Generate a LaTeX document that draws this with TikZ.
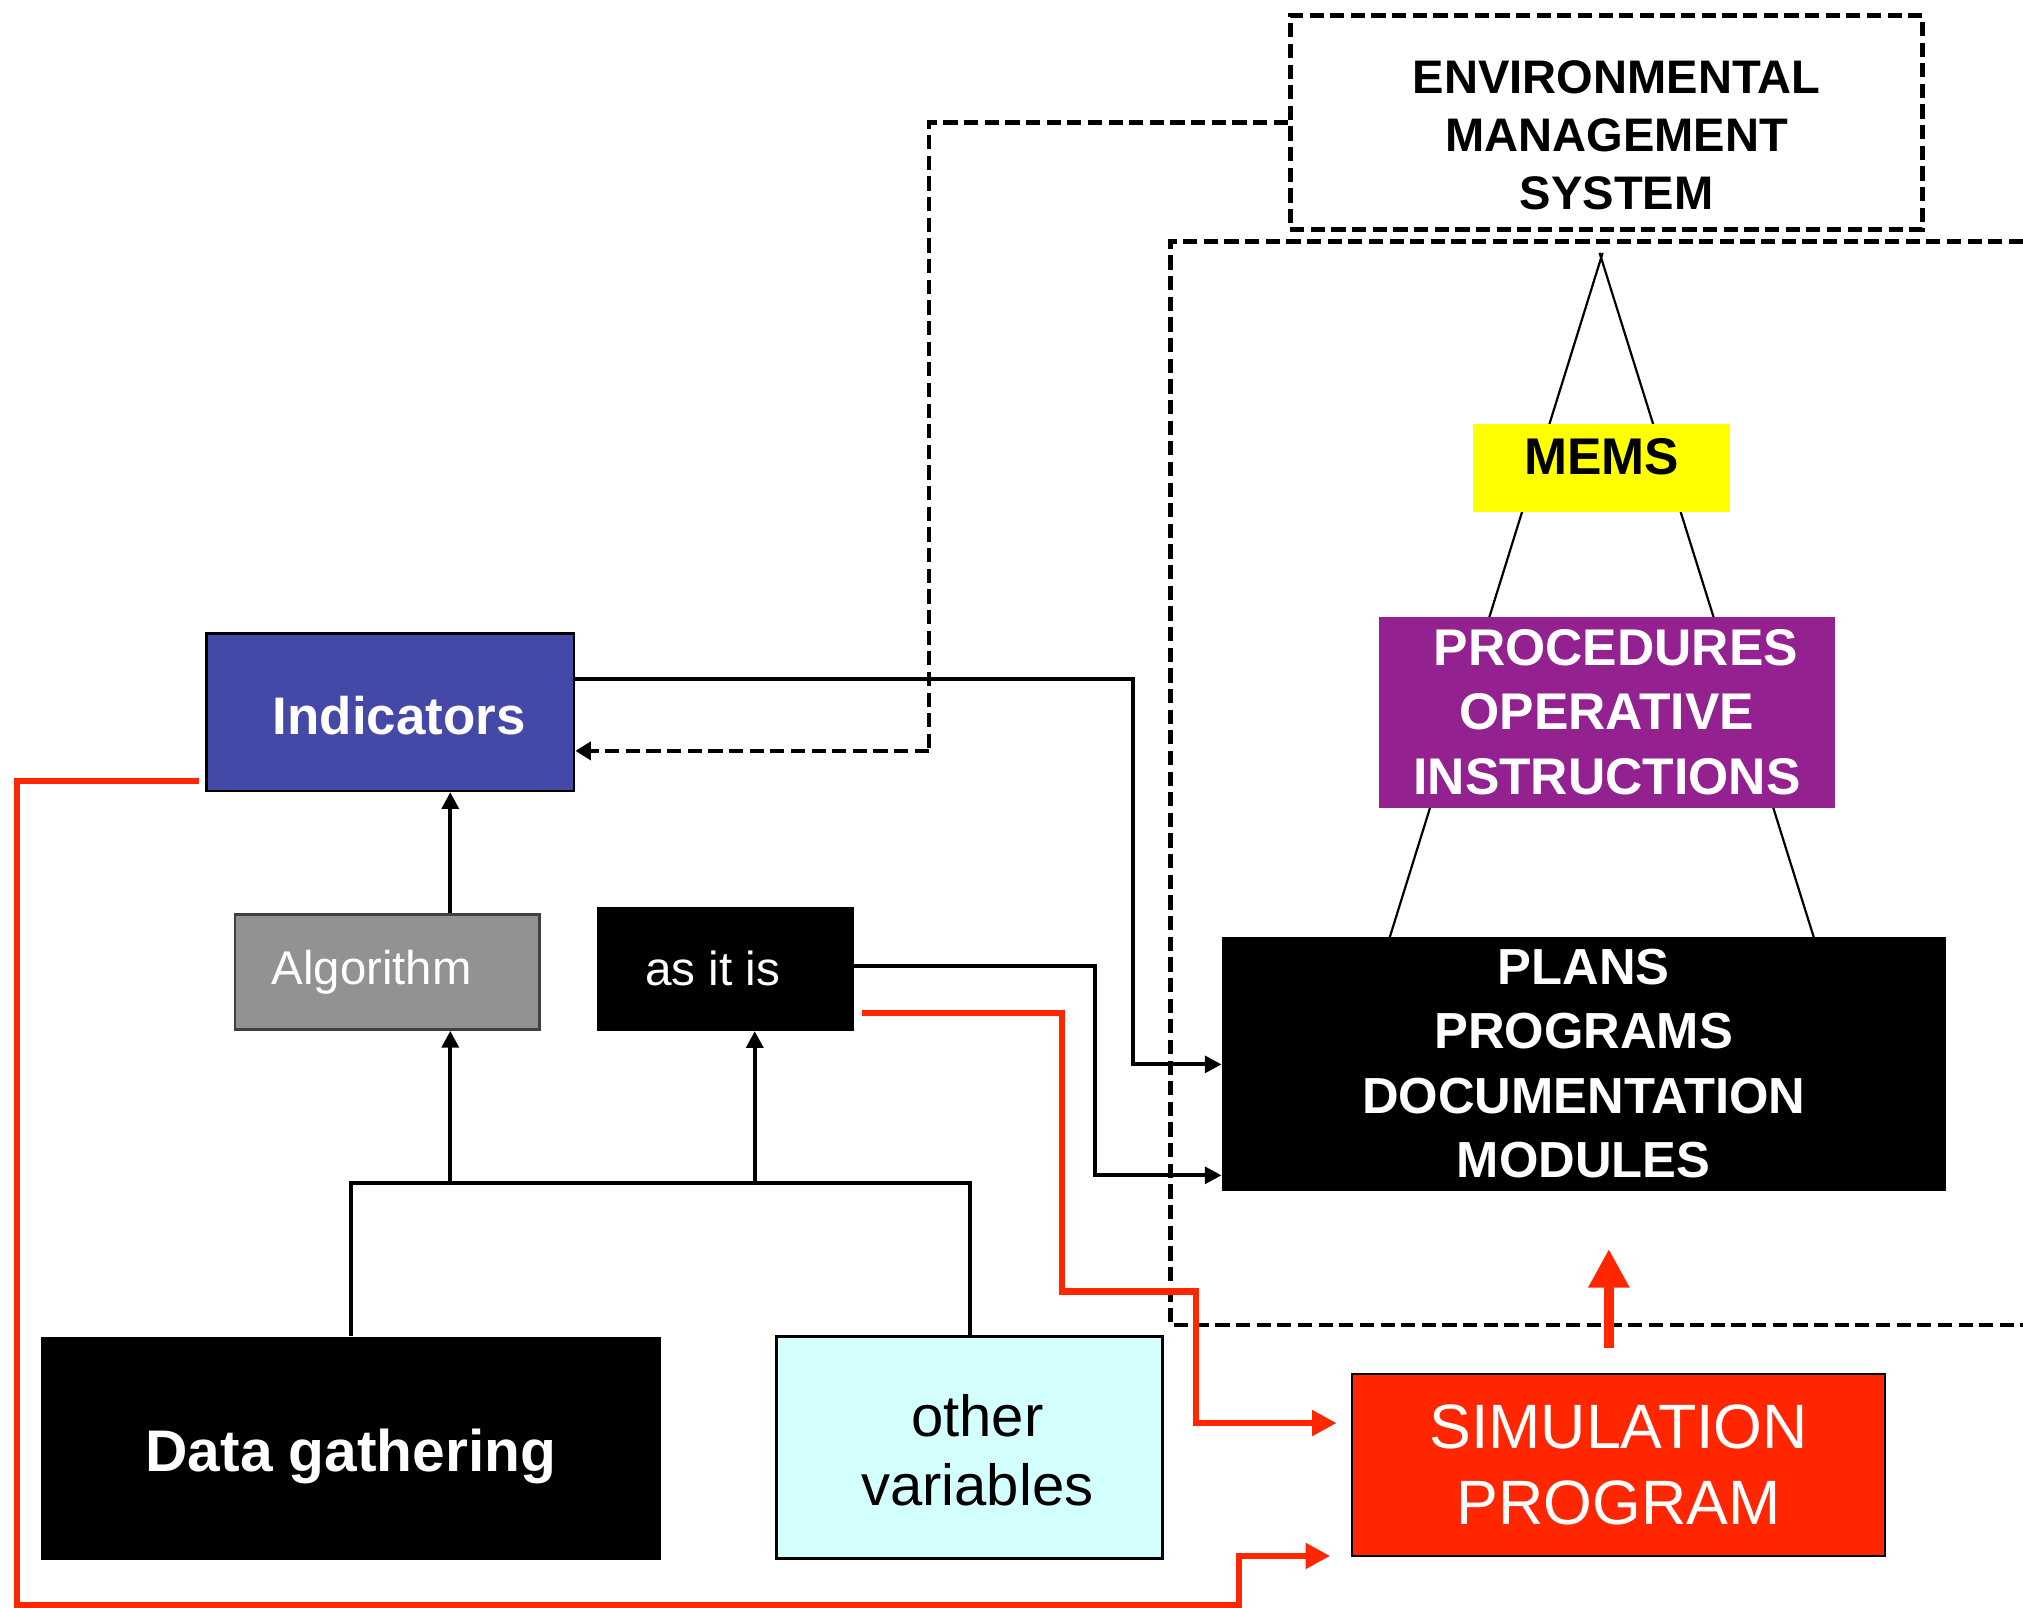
\documentclass[tikz,border=0pt]{standalone}
\usepackage{fontspec}
\setmainfont{Liberation Sans}
\usetikzlibrary{arrows.meta}

\definecolor{indblue}{RGB}{68,73,168}
\definecolor{procpurple}{RGB}{147,33,143}
\definecolor{memsyellow}{RGB}{255,255,0}
\definecolor{simred}{RGB}{255,38,0}
\definecolor{varcyan}{RGB}{212,255,255}
\definecolor{alggrey}{RGB}{146,146,146}

\begin{document}
\begin{tikzpicture}[x=1pt,y=-1pt,
  box/.style={rectangle, inner sep=0pt, align=center},
  plain/.style={line width=3.1pt},
  conn/.style={line width=3.1pt, -{Triangle[length=13pt,width=13pt]}},
  redconn/.style={draw=simred, line width=4.7pt, -{Triangle[length=19pt,width=19pt]}},
  dsh/.style={dash pattern=on 11pt off 5pt, line width=3.6pt},
  pyramid/.style={line width=1.7pt},
]
\useasboundingbox (0,0) rectangle (1568,1246);

% pyramid sides behind the stacked boxes, crossing just above the apex
\coordinate (apexL) at (1242.2,196);
\coordinate (apexR) at (1239.8,196);
\coordinate (baseL) at (1077,727);
\coordinate (baseR) at (1406,727);
\draw[pyramid] (baseL) -- (apexL);
\draw[pyramid] (baseR) -- (apexR);

% dashed frame of the management system
\draw[dsh] (1568,187) -- (907,187) -- (907,1027) -- (1568,1027);

% boxes
\node[box, draw=black, dsh, minimum width=490pt, minimum height=166pt,
  label={[xshift=8pt, yshift=-10pt, align=center, font=\bfseries\fontsize{36.5}{45}\selectfont]center:ENVIRONMENTAL\\MANAGEMENT\\SYSTEM}]
  (env) at (1245,95) {};

\node[box, fill=memsyellow, minimum width=199pt, minimum height=68pt,
  label={[yshift=9pt, font=\bfseries\fontsize{40}{48}\selectfont]center:MEMS}]
  (mems) at (1241.5,363) {};

\node[box, fill=procpurple, text=white, minimum width=353pt, minimum height=148pt,
  font=\bfseries\fontsize{40}{50}\selectfont]
  (proc) at (1245.5,552) {\hspace*{14pt}PROCEDURES\\OPERATIVE\\INSTRUCTIONS};

\node[box, fill=black, text=white, minimum width=561pt, minimum height=197pt,
  font=\bfseries\fontsize{39.3}{50}\selectfont]
  (plans) at (1227.5,824.5) {PLANS\\PROGRAMS\\DOCUMENTATION\\MODULES};

\node[box, fill=indblue, draw=black, line width=2pt, minimum width=285pt, minimum height=122pt,
  label={[xshift=7pt, yshift=-3pt, text=white, font=\bfseries\fontsize{41}{49}\selectfont]center:Indicators}]
  (ind) at (302.5,552) {};

\node[box, fill=alggrey, draw=black!75, line width=2pt, minimum width=236pt, minimum height=89pt,
  label={[xshift=-12pt, text=white, font=\fontsize{36.7}{44}\selectfont]center:Algorithm}]
  (alg) at (300,753.5) {};

\node[box, fill=black, minimum width=199pt, minimum height=96pt,
  label={[xshift=-10pt, text=white, font=\fontsize{37}{44}\selectfont]center:as it is}]
  (asis) at (562.5,751) {};

\node[box, fill=black, minimum width=480pt, minimum height=173pt,
  label={[yshift=-6pt, text=white, font=\bfseries\fontsize{45.5}{54}\selectfont]center:Data gathering}]
  (dg) at (272,1122.5) {};

\node[box, fill=varcyan, draw=black, line width=2pt, minimum width=299pt, minimum height=172pt,
  label={[xshift=6pt, yshift=-2pt, align=center, font=\fontsize{45}{54}\selectfont]center:other\\variables}]
  (ov) at (751.5,1122) {};

\node[box, fill=simred, draw=black, line width=2pt, text=white, minimum width=413pt, minimum height=141pt,
  font=\fontsize{48.6}{59}\selectfont]
  (sim) at (1254.5,1135.5) {SIMULATION\\PROGRAM};

% feedback from the management system to the indicators
\coordinate (fbk) at (720,582);
\draw[dsh] (env.west) -| (fbk);
\draw[dsh, -{Triangle[length=12pt,width=14pt]}] (fbk) -- (ind.east |- fbk);

% data sources feeding algorithm and raw values
\coordinate (bus) at (0,917);
\coordinate (ax) at (349,917);
\coordinate (bx) at (585,917);
\draw[plain] (dg.north) -- (dg.north |- bus) -- (ov.north |- bus) -- (ov.north);
\draw[conn] (ax) -- (alg.south -| ax);
\draw[conn] (bx) -- (asis.south -| bx);
\draw[conn] (alg.north -| ax) -- (ind.south -| ax);

% links into plans and programs
\coordinate (k1) at (878,526);
\coordinate (k2) at (878,825);
\draw[conn] (ind.east |- k1) -- (k1) -- (k2) -- (plans.west |- k2);
\coordinate (k3) at (849,749);
\coordinate (k4) at (849,911);
\draw[conn] (asis.east |- k3) -- (k3) -- (k4) -- (plans.west |- k4);

% inputs of the simulation program
\coordinate (r1) at (823,785);
\coordinate (r2) at (823,1001);
\coordinate (r3) at (927,1001);
\coordinate (r4) at (927,1103);
\draw[redconn] ([xshift=6pt]asis.east |- r1) -- (r1) -- (r2) -- (r3) -- (r4) -- ([xshift=-11pt]sim.west |- r4);

\coordinate (s1) at (13,605);
\coordinate (s2) at (13,1244);
\coordinate (s3) at (960,1244);
\coordinate (s4) at (960,1206);
\draw[redconn] ([xshift=-5pt]ind.west |- s1) -- (s1) -- (s2) -- (s3) -- (s4) -- ([xshift=-16pt]sim.west |- s4);

% simulation output towards the plans
\coordinate (u1) at (1247,1045);
\coordinate (u2) at (1247,968);
\draw[draw=simred, line width=8pt, -{Triangle[length=30pt,width=30pt]}] (u1) -- (u2);

\end{tikzpicture}
\end{document}
